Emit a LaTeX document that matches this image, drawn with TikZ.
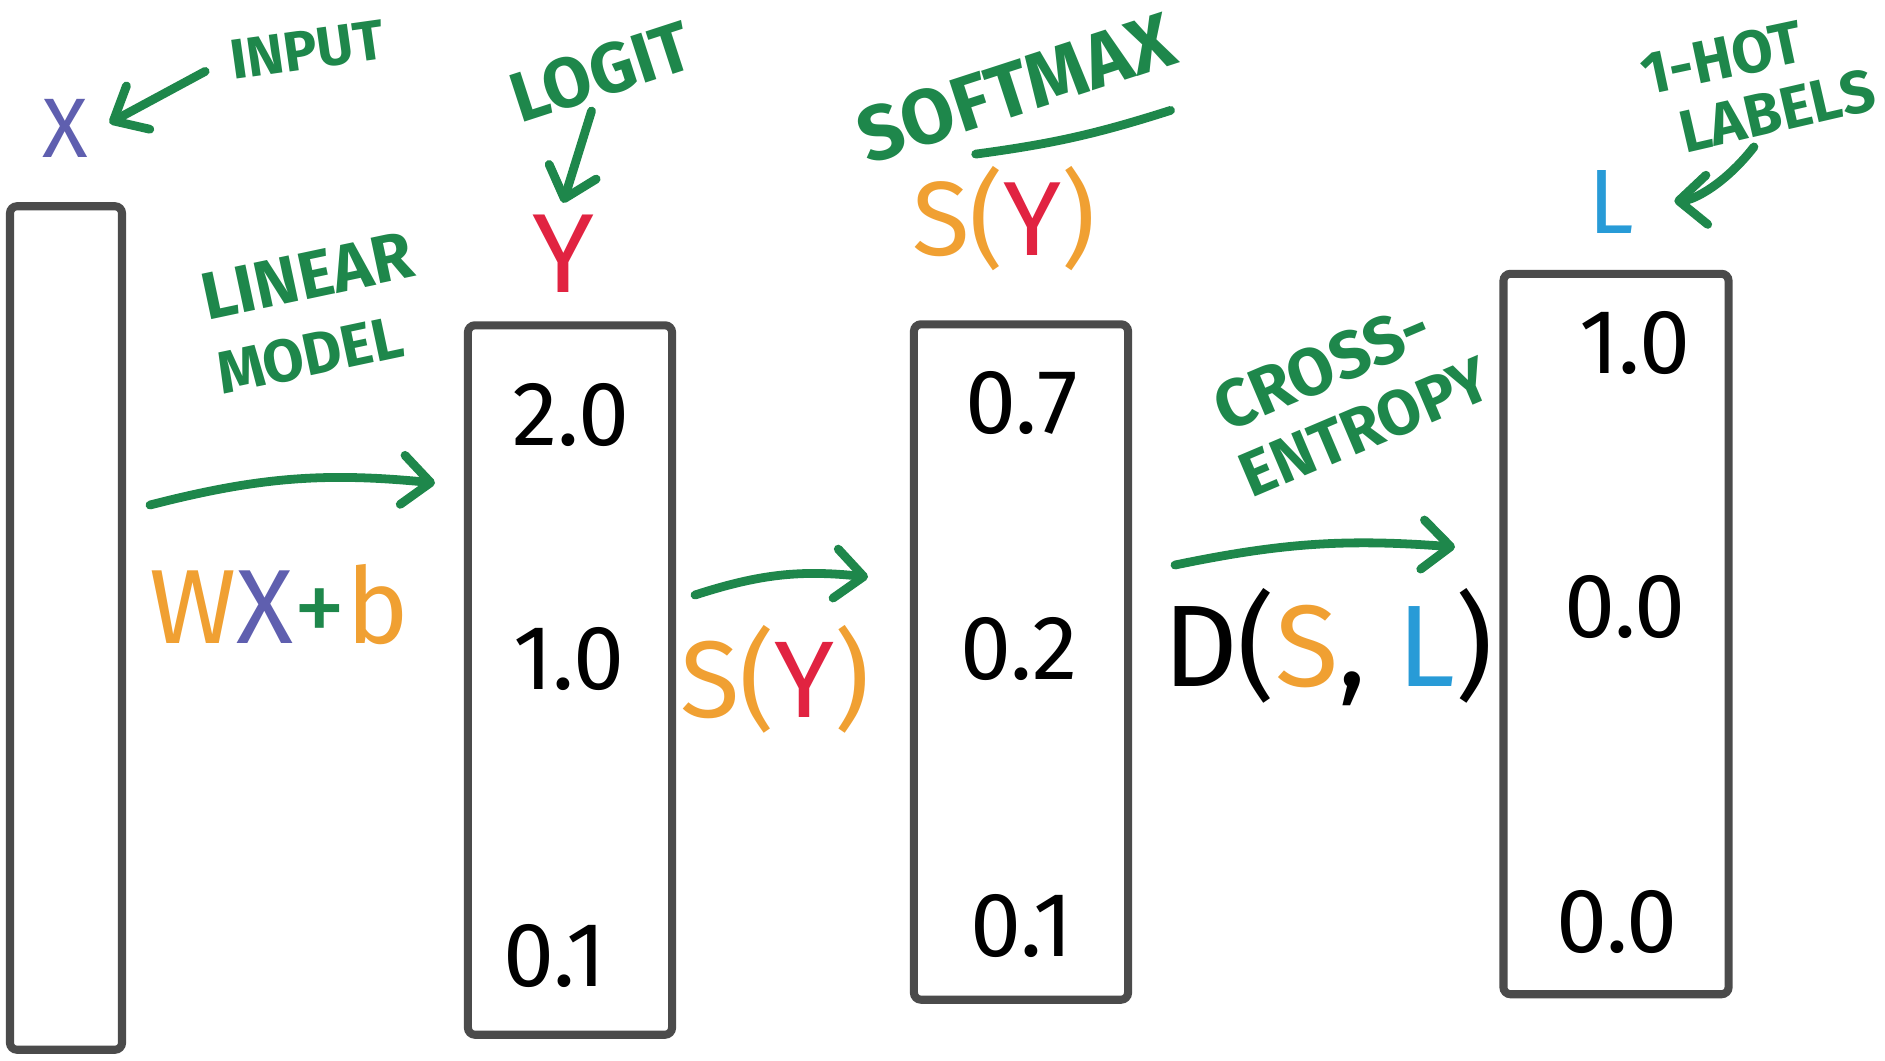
\documentclass[tikz,border=0pt]{standalone}
\usepackage{fontspec}
\setmainfont{Fira Sans}
\usetikzlibrary{
    arrows.meta,
    positioning
}

\definecolor{hgreen}{RGB}{30,135,75}
\definecolor{hred}{RGB}{225,35,65}
\definecolor{horange}{RGB}{240,160,50}
\definecolor{hpurple}{RGB}{95,95,175}
\definecolor{hblue}{RGB}{40,155,215}
\definecolor{boxgray}{RGB}{75,75,75}

\begin{document}
\begin{tikzpicture}[x=0.01cm,y=-0.01cm,
    box/.style={draw=boxgray,line width=2.3pt,rounded corners=2pt,inner sep=0pt,outer sep=0pt},
    val/.style={font=\fontsize{26}{30}\selectfont},
    note/.style={text=hgreen,inner sep=0pt,font=\fontsize{18}{20}\selectfont\bfseries},
    hand/.style={draw=hgreen,line width=2.5pt,line cap=round,
                 -{Straight Barb[length=8pt,width=14pt,round]}}]

\useasboundingbox (0,0) rectangle (1885,1060);

% Boxes
\node[box,minimum width=1.12cm,minimum height=8.43cm] (xbox) at (66,628) {};
\node[box,minimum width=2.04cm,minimum height=7.09cm] (ybox) at (570,680) {};
\node[box,minimum width=2.14cm,minimum height=6.75cm] (sbox) at (1021,662) {};
\node[box,minimum width=2.25cm,minimum height=7.20cm] (lbox) at (1616,634) {};

% Values
\foreach \v/\x/\y [count=\i] in {2.0/571/415,1.0/569/659,0.1/555/956}{
    \node[val] (y\i) at (\x,\y) {\v};
}
\foreach \v/\x/\y [count=\i] in {0.7/1022/403,0.2/1019/649,0.1/1022/926}{
    \node[val] (s\i) at (\x,\y) {\v};
}
\foreach \v/\x/\y [count=\i] in {1.0/1635/343,0.0/1625/607,0.0/1617/922}{
    \node[val] (l\i) at (\x,\y) {\v};
}

% Symbols above the boxes
\node[text=hpurple,font=\fontsize{24}{26}\selectfont] (x) at (65,128) {X};
\node[text=hred,font=\fontsize{32}{34}\selectfont] (y) at (563,254) {Y};
\node[font=\fontsize{30}{34}\selectfont] (sy) at (1004,219)
    {\textcolor{horange}{S(}\textcolor{hred}{Y}\textcolor{horange}{)}};
\node[text=hblue,font=\fontsize{26}{28}\selectfont] (l) at (1611,202) {L};

% Notes
\node[note,rotate=8,font=\fontsize{16}{18}\selectfont\bfseries] (input) at (307,50) {INPUT};
\node[note,rotate=18,font=\fontsize{20}{22}\selectfont\bfseries] (logit) at (601,72) {LOGIT};
\node[note,rotate=18,font=\fontsize{22}{24}\selectfont\bfseries] (softmax) at (1016,88) {SOFTMAX};
\node[note,rotate=12,font=\fontsize{17}{19}\selectfont\bfseries] (hot) at (1722,58) {1-HOT};
\node[note,rotate=13,font=\fontsize{17}{19}\selectfont\bfseries] (labels) at (1777,111) {LABELS};
\node[note,rotate=12,font=\fontsize{19}{21}\selectfont\bfseries] (linear) at (307,276) {LINEAR};
\node[note,rotate=12,font=\fontsize{17}{19}\selectfont\bfseries] (model) at (310,355) {MODEL};
\node[note,rotate=23,font=\fontsize{19}{21}\selectfont\bfseries] (cross) at (1322,367) {CROSS-};
\node[note,rotate=23,font=\fontsize{18}{20}\selectfont\bfseries] (entropy) at (1365,427) {ENTROPY};

% Pointers
\draw[hand,shorten >=3pt] ([xshift=-7pt,yshift=-3pt]input.west) -- (x.east);
\draw[hand] ([xshift=-5pt,yshift=-4pt]logit.south) -- (y.north);
\draw[hand,shorten >=8pt] ([xshift=-8pt,yshift=-4pt]labels.south) to[bend left=25] (l.east);
\draw[draw=hgreen,line width=2.5pt,line cap=round]
    ([xshift=-14pt,yshift=-11pt]softmax.south) to[bend right=5] ([xshift=-3pt,yshift=-13pt]softmax.south east);

% Steps
\coordinate (lin0) at (150,505);
\coordinate (lin1) at (435,483);
\coordinate (soft0) at (695,595);
\coordinate (soft1) at (868,577);
\coordinate (xent0) at (1175,565);
\coordinate (xent1) at (1455,547);

\draw[hand] (lin0) to[bend left=10] (lin1);
\draw[hand] (soft0) to[bend left=12] (soft1);
\draw[hand] (xent0) to[bend left=8] (xent1);

\node[font=\fontsize{30}{34}\selectfont] (wxb) at (279,605)
    {\textcolor{horange}{W}\textcolor{hpurple}{X}\textcolor{hgreen}{+}\textcolor{horange}{b}};
\node[font=\fontsize{31}{35}\selectfont] (sy2) at (775,679)
    {\textcolor{horange}{S(}\textcolor{hred}{Y}\textcolor{horange}{)}};
\node[font=\fontsize{33}{37}\selectfont] (dsl) at (1328,647)
    {D(\textcolor{horange}{S}, \textcolor{hblue}{L})};

\end{tikzpicture}
\end{document}
